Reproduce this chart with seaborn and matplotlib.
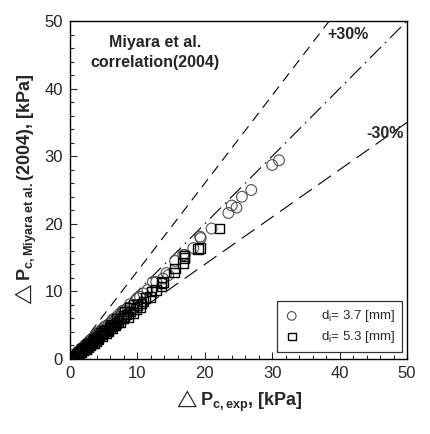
import numpy as np
import pandas as pd
import seaborn as sns
import matplotlib
matplotlib.use("Agg")
import matplotlib.pyplot as plt
from matplotlib.ticker import MultipleLocator

# Données : d_i = 3.7 mm (cercles)
x_37 = [31.0, 30.0, 26.9, 25.5, 24.7, 24.0, 23.5, 21.0, 19.4, 19.3, 18.3, 17.0,
        16.8, 15.6, 14.6, 14.3, 13.8, 12.8, 12.3, 11.5, 10.9, 10.4, 10.0, 9.4,
        8.9, 8.6, 8.0, 7.8, 7.5, 7.0, 6.6, 6.4, 6.2, 5.8, 5.4, 5.2, 5.0, 4.7,
        4.4, 4.2, 4.1, 3.8, 3.5, 3.2, 3.0, 2.9, 2.6, 2.3, 2.2, 2.0, 1.8, 1.5,
        1.2, 1.0, 0.8]
y_37 = [29.4, 28.7, 25.0, 24.0, 22.4, 22.7, 21.6, 19.3, 17.9, 18.1, 16.4, 15.4,
        15.4, 14.5, 12.4, 12.7, 11.9, 11.4, 11.4, 10.2, 9.7, 9.2, 9.0, 8.0,
        8.1, 7.6, 7.2, 7.1, 6.8, 6.3, 5.9, 5.9, 5.6, 5.2, 4.9, 4.8, 4.6, 4.3,
        4.0, 3.9, 3.7, 3.4, 3.2, 2.9, 2.8, 2.6, 2.3, 2.1, 2.0, 1.8, 1.6, 1.3,
        1.0, 0.8, 0.6]

# d_i = 5.3 mm (carrés)
x_53 = [22.2, 19.3, 19.0, 17.0, 17.0, 16.8, 15.6, 15.4, 13.8, 13.6, 13.6, 12.8,
        12.1, 11.9, 10.9, 10.6, 10.4, 9.4, 9.4, 8.9, 8.4, 8.2, 8.0, 7.6, 7.2,
        7.0, 6.9, 6.5, 6.2, 6.0, 5.9, 5.5, 5.2, 5.0, 4.9, 4.6, 4.5, 4.3, 4.0,
        3.7, 3.5, 3.4, 3.1, 2.8, 2.6, 2.5, 2.2, 1.9, 1.8, 1.6, 1.3, 1.0,
        11.2, 10.0, 9.8, 9.0, 8.6, 7.9, 7.4, 6.7, 6.3, 5.7, 5.3, 4.8, 4.2,
        3.9, 3.3, 3.0, 2.7, 2.4, 2.0, 1.7, 1.4, 1.2, 0.9, 0.7, 2.3, 3.6]
y_53 = [19.3, 16.4, 16.3, 15.2, 14.9, 14.2, 13.4, 12.8, 11.4, 11.2, 10.7, 10.2,
        10.0, 9.2, 8.5, 8.2, 7.7, 8.0, 6.8, 7.5, 6.6, 7.0, 6.4, 6.0, 5.6,
        5.9, 5.3, 5.1, 4.8, 5.0, 4.6, 4.3, 4.1, 4.2, 3.8, 3.6, 3.9, 3.4, 3.1,
        2.9, 3.0, 2.6, 2.4, 2.2, 2.2, 1.9, 1.7, 1.4, 1.5, 1.2, 1.0, 0.7,
        9.0, 8.0, 7.4, 7.0, 6.2, 6.1, 5.4, 5.0, 4.5, 4.1, 3.8, 3.4, 3.0,
        2.7, 2.3, 2.0, 1.8, 1.5, 1.3, 1.0, 0.8, 0.5, 0.4, 0.3, 1.4, 2.3]

# Droites de référence
ref_x = [0, 50]
ratios = [1.3, 1.0, 0.7]

df_37 = pd.DataFrame({'exp': x_37, 'pred': y_37})
df_53 = pd.DataFrame({'exp': x_53, 'pred': y_53})

sns.set_style('ticks')
plt.rcParams['font.family'] = ['Liberation Sans', 'DejaVu Sans']
plt.rcParams['mathtext.fontset'] = 'custom'
plt.rcParams['mathtext.rm'] = 'Liberation Sans'
plt.rcParams['mathtext.bf'] = 'Liberation Sans:bold'
plt.rcParams['mathtext.it'] = 'Liberation Sans:italic'
plt.rcParams['mathtext.fallback'] = 'stixsans'

fig = plt.figure(figsize=(4.31, 4.34), dpi=100)
ax = fig.add_axes([0.1624, 0.1728, 0.7819, 0.7788])

# Lignes +30%, 0%, -30%
styles = [(0, (9, 6)), (0, (14, 5, 1.5, 5)), (0, (14, 7))]
for r, ls in zip(ratios, styles):
    ax.plot(ref_x, [v * r for v in ref_x], color='black', lw=0.8, linestyle=ls)

sns.scatterplot(data=df_37, x='exp', y='pred', marker='o', s=60,
                facecolor='none', edgecolor='#505050', linewidth=0.8,
                ax=ax, label=r'd$_{\mathrm{i}}$= 3.7 [mm]', zorder=3)
sns.scatterplot(data=df_53, x='exp', y='pred', marker='s', s=48,
                facecolor='none', edgecolor='black', linewidth=1.0,
                ax=ax, label=r'd$_{\mathrm{i}}$= 5.3 [mm]', zorder=3)

ax.set_xlim(0, 50)
ax.set_ylim(0, 50)
ax.xaxis.set_major_locator(MultipleLocator(10))
ax.yaxis.set_major_locator(MultipleLocator(10))
ax.xaxis.set_minor_locator(MultipleLocator(2))
ax.yaxis.set_minor_locator(MultipleLocator(2))
ax.tick_params(which='both', direction='in', top=False, right=False, labelsize=12)
ax.tick_params(which='major', length=5, width=0.8, pad=5)
ax.tick_params(which='minor', length=3, width=0.8)
for sp in ax.spines.values():
    sp.set_linewidth(1.0)
    sp.set_color('black')

ax.set_xlabel(r'$\triangle\mathbf{P_{c,exp}}$, [kPa]', fontsize=13, fontweight='bold', labelpad=6)
ax.set_ylabel(r'$\triangle\mathbf{P_{c,Miyara\ et\ al.}}$(2004), [kPa]', fontsize=13,
              fontweight='bold', labelpad=4)

ax.text(12.6, 45.3, 'Miyara et al.\ncorrelation(2004)', ha='center', va='center',
        fontsize=11.5, fontweight='bold', linespacing=1.45)
ax.text(41.2, 48.0, '+30%', ha='center', va='center', fontsize=11.5, fontweight='bold')
ax.text(46.7, 33.4, '-30%', ha='center', va='center', fontsize=11.5, fontweight='bold')

leg = ax.legend(loc='lower right', bbox_to_anchor=(0.985, 0.02), borderaxespad=0,
                fontsize=9.5, frameon=True, fancybox=False, edgecolor='black',
                handlelength=1.2, handletextpad=1.6, borderpad=0.55,
                labelspacing=0.35, markerscale=0.8)
leg.get_frame().set_linewidth(0.9)

plt.savefig('out.png', dpi=100)
